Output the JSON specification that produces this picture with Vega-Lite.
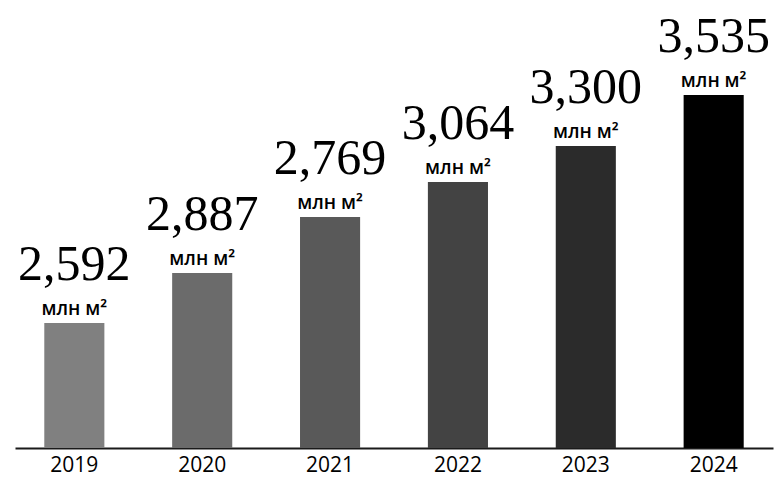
{
  "$schema": "https://vega.github.io/schema/vega-lite/v6.json",
  "width": 758,
  "height": 448,
  "autosize": {"type": "none"},
  "padding": {"left": 15, "top": 0, "right": 1, "bottom": 29},
  "background": "white",
  "data": {
    "values": [
      {"year": "2019", "bar_height": 1250, "label": "2,592"},
      {"year": "2020", "bar_height": 1750, "label": "2,887"},
      {"year": "2021", "bar_height": 2310, "label": "2,769"},
      {"year": "2022", "bar_height": 2660, "label": "3,064"},
      {"year": "2023", "bar_height": 3020, "label": "3,300"},
      {"year": "2024", "bar_height": 3530, "label": "3,535"}
    ]
  },
  "encoding": {
    "x": {
      "field": "year",
      "type": "ordinal",
      "scale": {"paddingInner": 0.53, "paddingOuter": 0.229},
      "axis": {
        "title": null,
        "labelAngle": 0,
        "ticks": false,
        "grid": false,
        "domainColor": "#1a1a1a",
        "domainWidth": 2,
        "labelFont": "Open Sans",
        "labelFontSize": 21,
        "labelColor": "#000000",
        "labelBaseline": "alphabetic",
        "labelPadding": 23
      }
    },
    "y": {
      "field": "bar_height",
      "type": "quantitative",
      "scale": {"domain": [0, 4480]},
      "axis": null
    }
  },
  "layer": [
    {
      "mark": {"type": "bar"},
      "encoding": {
        "color": {
          "field": "year",
          "type": "nominal",
          "scale": {
            "domain": ["2019", "2020", "2021", "2022", "2023", "2024"],
            "range": ["#808080", "#6b6b6b", "#595959", "#434343", "#2b2b2b", "#000000"]
          },
          "legend": null
        }
      }
    },
    {
      "mark": {"type": "text", "baseline": "alphabetic", "dy": -43, "font": "Liberation Serif", "fontSize": 50, "color": "#000000"},
      "encoding": {"text": {"field": "label"}}
    },
    {
      "mark": {"type": "text", "baseline": "alphabetic", "dy": -8, "font": "Open Sans", "fontSize": 19, "fontWeight": 600, "color": "#000000"},
      "encoding": {"text": {"datum": "млн м²"}}
    }
  ],
  "config": {"view": {"stroke": null}}
}
